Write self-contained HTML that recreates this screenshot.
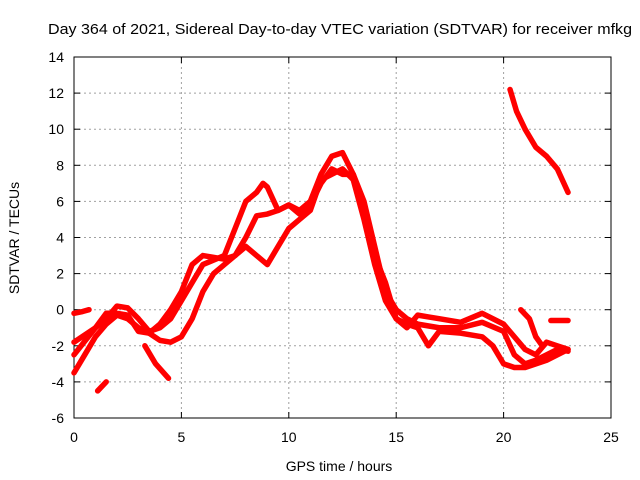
<!DOCTYPE html>
<html><head><meta charset="utf-8"><style>
body{margin:0;background:#fff;}
svg{display:block;font-family:"Liberation Sans",sans-serif;}
</style></head><body>
<svg id="chart" width="640" height="480">
<text x="340" y="34" font-size="15" textLength="584" lengthAdjust="spacingAndGlyphs" text-anchor="middle">Day 364 of 2021, Sidereal Day-to-day VTEC variation (SDTVAR) for receiver mfkg</text>
<text x="339" y="471" font-size="14" text-anchor="middle">GPS time / hours</text>
<text transform="translate(19,238) rotate(-90)" font-size="14" text-anchor="middle">SDTVAR / TECUs</text>
<g id="grid"></g><g id="axes"></g><g id="series"></g>
</svg>
<script>
const xTicks=[0,5,10,15,20,25];
const yTicks=[-6,-4,-2,0,2,4,6,8,10,12,14];
const trackA=[[0,-0.2],[0.4,-0.1],[0.7,0]];
const trackB=[[0,-3.5],[0.5,-2.5],[1,-1.5],[1.5,-0.8],[2,-0.3],[2.5,-0.5],[3,-1],[3.5,-1.3],[4,-1.7],[4.5,-1.8],[5,-1.5],[5.5,-0.5],[6,1],[6.5,2],[7,2.5],[7.5,3],[8,4],[8.5,5.2],[9,5.3],[9.5,5.5],[10,5.8],[10.5,5.5],[11,6],[11.5,7.5],[12,8.5],[12.5,8.7],[13,7.5],[13.5,6],[14,3.5],[14.5,1],[15,0],[15.5,-0.5],[16,-0.8],[17,-1],[18,-1],[19,-0.7],[20,-1.2],[20.5,-2.5],[21,-3],[21.5,-2.8],[22,-2.5],[22.5,-2.2],[23,-2.3]];
const trackC=[[0,-2.5],[1,-1],[1.5,-0.5],[2,0.2],[2.5,0.1],[3,-0.5],[3.5,-1.2],[4,-1],[4.5,-0.5],[5,0.5],[5.5,1.5],[6,2.5],[7,3],[7.5,4.5],[8,6],[8.5,6.5],[8.8,7],[9,6.8],[9.5,5.5],[10,5.8],[10.5,5.3],[11,5.8],[11.5,7],[12,7.8],[12.5,7.5],[13,7.5],[13.5,5.5],[14,3],[14.5,1.5],[15,-0.5],[15.5,-1],[16,-0.3],[16.5,-0.4],[17,-0.5],[18,-0.7],[19,-0.2],[20,-0.8],[20.5,-1.5],[21,-2.2],[21.5,-2.5],[22,-1.8],[22.5,-2],[23,-2.2]];
const trackD=[[0,-1.8],[1,-1],[1.5,-0.2],[2,-0.2],[2.5,-0.3],[3,-1.2],[3.5,-1.3],[4,-0.8],[4.5,0],[5,1],[5.5,2.5],[6,3],[7,2.8],[7.5,3],[8,3.5],[8.5,3],[9,2.5],[9.5,3.5],[10,4.5],[10.5,5],[11,5.5],[11.5,7.2],[12,7.5],[12.5,7.8],[13,7.2],[13.5,5],[14,2.5],[14.5,0.5],[15,-0.5],[15.5,-0.8],[16,-1],[16.5,-2],[17,-1.2],[18,-1.3],[19,-1.5],[19.5,-2],[20,-3],[20.5,-3.2],[21,-3.2],[22,-2.8],[23,-2.2]];
const trackE=[[3.3,-2],[3.8,-3],[4.4,-3.8]];
const trackF=[[1.1,-4.5],[1.5,-4]];
const trackG=[[20.3,12.2],[20.6,11],[21,10],[21.5,9],[22,8.5],[22.5,7.8],[23,6.5]];
const trackH=[[20.8,0],[21.2,-0.5],[21.5,-1.5],[21.8,-2]];
const trackI=[[22.2,-0.6],[23,-0.6]];
const tracks=[trackA,trackB,trackC,trackD,trackE,trackF,trackG,trackH,trackI];
const L=74,R=611,T=57,B=418;
const sx=v=>L+(v-0)/25*(R-L);
const sy=v=>B-(v+6)/20*(B-T);
const NS="http://www.w3.org/2000/svg";
const grid=document.getElementById('grid'),axes=document.getElementById('axes'),ser=document.getElementById('series');
function mk(t,a,p){const e=document.createElementNS(NS,t);for(const k in a)e.setAttribute(k,a[k]);p.appendChild(e);return e;}
xTicks.forEach(v=>{const x=sx(v);
 if(v>0&&v<25){const g=mk('line',{x1:x,x2:x,y1:T,y2:B,stroke:'#a0a0a0','stroke-dasharray':'2,3'},grid);
 
 }
 mk('line',{x1:x,x2:x,y1:B,y2:B-6,stroke:'#000'},axes);mk('line',{x1:x,x2:x,y1:T,y2:T+6,stroke:'#000'},axes);
 const t=mk('text',{x:x,y:B+24,'font-size':14,'text-anchor':'middle'},axes);t.textContent=v;
 
 });
yTicks.forEach(v=>{const y=sy(v);
 if(v>-6&&v<14){const g=mk('line',{x1:L,x2:R,y1:y,y2:y,stroke:'#a0a0a0','stroke-dasharray':'2,3'},grid);
 
 }
 mk('line',{x1:L,x2:L+6,y1:y,y2:y,stroke:'#000'},axes);mk('line',{x1:R,x2:R-6,y1:y,y2:y,stroke:'#000'},axes);
 const t=mk('text',{x:L-10,y:y+5,'font-size':14,'text-anchor':'end'},axes);t.textContent=v;
 
 });
const fr=mk('rect',{x:L,y:T,width:R-L,height:B-T,fill:'none',stroke:'#000'},axes);


tracks.forEach(tr=>{const p=mk('polyline',{points:tr.map(d=>sx(d[0])+','+sy(d[1])).join(' '),fill:'none',stroke:'#ff0000','stroke-width':5.5,'stroke-linejoin':'round','stroke-linecap':'round'},ser);
 
 });
</script>
</body></html>
